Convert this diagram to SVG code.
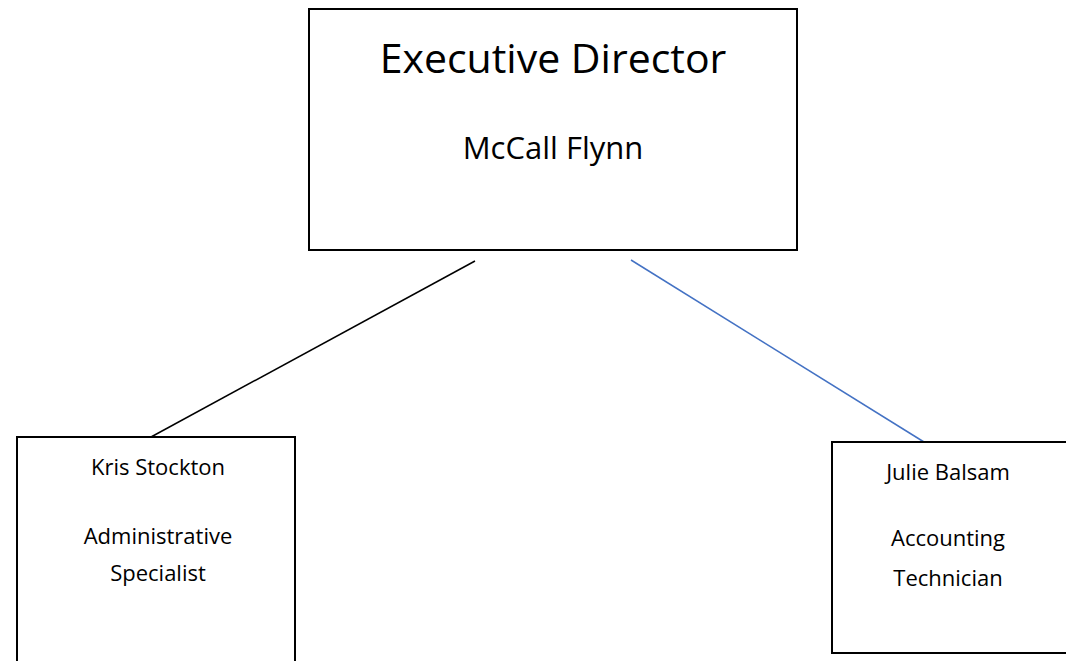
<svg xmlns="http://www.w3.org/2000/svg" width="1066" height="661" viewBox="0 0 1066 661">
<style>
.box{fill:#fff;stroke:#000;stroke-width:2}
.t{font-family:"Open Sans","Liberation Sans",sans-serif;fill:#000;text-anchor:middle}
.big{font-size:41px}
.mid{font-size:31px}
.sm{font-size:22px}
</style>
<rect width="1066" height="661" fill="#fff"/>
<g id="connectors">
<line x1="475" y1="261" x2="151" y2="437" stroke="#000" stroke-width="1.5"/>
<line x1="631" y1="260" x2="924" y2="442" stroke="#4472C4" stroke-width="1.5"/>
</g>
<g id="executive-director">
<rect class="box" x="309" y="9" width="488" height="241"/>
<text class="t big" x="553" y="73">Executive Director</text>
<text class="t mid" x="553" y="159">McCall Flynn</text>
</g>
<g id="kris-stockton">
<rect class="box" x="17" y="437" width="278" height="240"/>
<text class="t sm" x="158" y="475">Kris Stockton</text>
<text class="t sm" x="158" y="544">Administrative</text>
<text class="t sm" x="158" y="581">Specialist</text>
</g>
<g id="julie-balsam">
<rect class="box" x="832" y="442" width="240" height="211"/>
<text class="t sm" x="948" y="480">Julie Balsam</text>
<text class="t sm" x="948" y="546">Accounting</text>
<text class="t sm" x="948" y="586">Technician</text>
</g>
</svg>
